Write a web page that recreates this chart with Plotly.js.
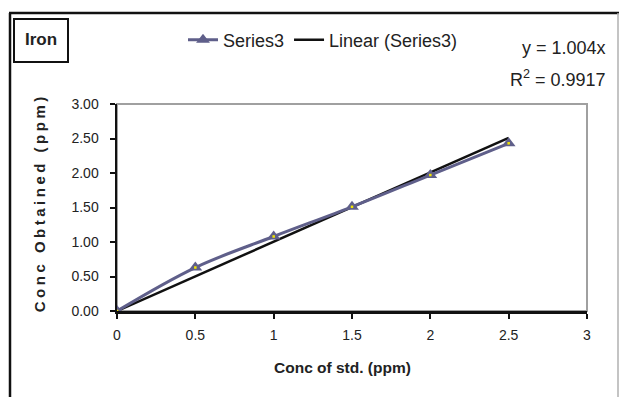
<!DOCTYPE html>
<html>
<head>
<meta charset="utf-8">
<script src="https://cdn.plot.ly/plotly-3.0.1.min.js"></script>
<style>html,body{margin:0;padding:0;background:#fff;}#chart{width:621px;height:397px;}</style>
</head>
<body>
<div id="chart"></div>
<script>
// Data
const concStd = [0, 0.5, 1, 1.5, 2, 2.5];
const concObtained = [0, 0.63, 1.08, 1.51, 1.97, 2.43];
const trendX = [0, 2.5];
const trendY = [0, 2.51];
const seriesName = "Series3";
const trendName = "Linear (Series3)";
const chartTitle = "Iron";
const xTitle = "Conc of std. (ppm)";
const yTitle = "Conc Obtained (ppm)";
const eqLine1 = "y = 1.004x";
const eqLine2 = "R<sup>2</sup> = 0.9917";
const tickVals = [0, 0.5, 1, 1.5, 2, 2.5, 3];

const FONT = "Liberation Sans, Arial, sans-serif";
const W = 470, H = 207, L = 117, T = 104;
const px = v => (v - L) / W;
const py = v => (T + H - v) / H;

const traces = [
  {
    x: trendX, y: trendY, type: "scatter", mode: "lines", name: trendName,
    line: {color: "#111111", width: 2.5}, legendrank: 2
  },
  {
    x: concStd, y: concObtained, type: "scatter", mode: "lines+markers", name: seriesName,
    line: {color: "#5f5f8a", width: 3, shape: "spline", smoothing: 1},
    marker: {symbol: "triangle-up", size: 12, color: "#5f5f8a", line: {width: 0}},
    legendrank: 1
  },
  {
    x: concStd, y: concObtained, type: "scatter", mode: "markers", showlegend: false,
    hoverinfo: "skip",
    marker: {symbol: "square", size: 2.5, color: "#f2e600", line: {width: 0}}
  }
];

const layout = {
  width: 621, height: 397,
  margin: {l: L, r: 621 - L - W, t: T, b: 397 - T - H},
  paper_bgcolor: "#ffffff", plot_bgcolor: "#ffffff",
  font: {family: FONT, color: "#222222", size: 14},
  showlegend: true,
  legend: {
    orientation: "h", x: px(183), xanchor: "left", y: py(40), yanchor: "middle",
    font: {family: FONT, size: 18, color: "#222222"}, bgcolor: "rgba(0,0,0,0)",
    traceorder: "normal", itemwidth: 30
  },
  xaxis: {
    range: [0, 3], tickmode: "array", tickvals: tickVals, ticktext: tickVals.map(String),
    showgrid: false, zeroline: false, showline: true, linecolor: "#111111", linewidth: 2.5,
    ticks: "outside", ticklen: 5, tickwidth: 2, tickcolor: "#111111",
    tickfont: {family: FONT, size: 14, color: "#222222"}, ticklabelstandoff: 5,
    fixedrange: true
  },
  yaxis: {
    range: [0, 3], dtick: 0.5, tick0: 0, tickformat: ".2f",
    showgrid: false, zeroline: false, showline: true, linecolor: "#111111", linewidth: 2.5,
    ticks: "outside", ticklen: 5, tickwidth: 2, tickcolor: "#111111",
    tickfont: {family: FONT, size: 14, color: "#222222"}, ticklabelstandoff: 8,
    fixedrange: true
  },
  shapes: [
    // plot-area frame (grey)
    {type: "rect", xref: "paper", yref: "paper", x0: 0, x1: 1, y0: 0, y1: 1,
     line: {color: "#a0a0a0", width: 2}, layer: "below"},
    // outer chart border
    {type: "line", xref: "paper", yref: "paper", x0: px(10), x1: px(10), y0: py(420), y1: py(13),
     line: {color: "#111111", width: 2.5}},
    {type: "line", xref: "paper", yref: "paper", x0: px(9), x1: px(619), y0: py(13), y1: py(13),
     line: {color: "#111111", width: 2.5}},
    {type: "line", xref: "paper", yref: "paper", x0: px(618), x1: px(618), y0: py(420), y1: py(13),
     line: {color: "#b0b0b0", width: 1.5}},
    // title box
    {type: "rect", xref: "paper", yref: "paper", x0: px(14), x1: px(68), y0: py(62), y1: py(19),
     line: {color: "#111111", width: 2}}
  ],
  annotations: [
    {xref: "paper", yref: "paper", x: px(41), y: py(40), xanchor: "center", yanchor: "middle",
     text: "<b>" + chartTitle + "</b>", showarrow: false,
     font: {family: FONT, size: 17, color: "#222222"}},
    {xref: "paper", yref: "paper", x: px(608), y: py(48), xanchor: "right", yanchor: "middle",
     text: eqLine1, showarrow: false, font: {family: FONT, size: 18, color: "#222222"}},
    {xref: "paper", yref: "paper", x: px(608), y: py(79), xanchor: "right", yanchor: "middle",
     text: eqLine2, showarrow: false, font: {family: FONT, size: 18, color: "#222222"}},
    {xref: "paper", yref: "paper", x: px(342), y: py(367), xanchor: "center", yanchor: "middle",
     text: "<b>" + xTitle + "</b>", showarrow: false,
     font: {family: FONT, size: 15.5, color: "#222222"}},
    {xref: "paper", yref: "paper", x: px(39), y: py(203), xanchor: "center", yanchor: "middle",
     text: "<b>" + yTitle + "</b>", showarrow: false, textangle: -90,
     font: {family: FONT, size: 15, color: "#222222"}}
  ]
};

Plotly.newPlot("chart", traces, layout, {staticPlot: true, displayModeBar: false}).then(function () {
  document.querySelectorAll(".annotation-text").forEach(function (t) {
    if (t.textContent === yTitle) {
      t.style.letterSpacing = "3.5px";
    }
  });
});
</script>
</body>
</html>
